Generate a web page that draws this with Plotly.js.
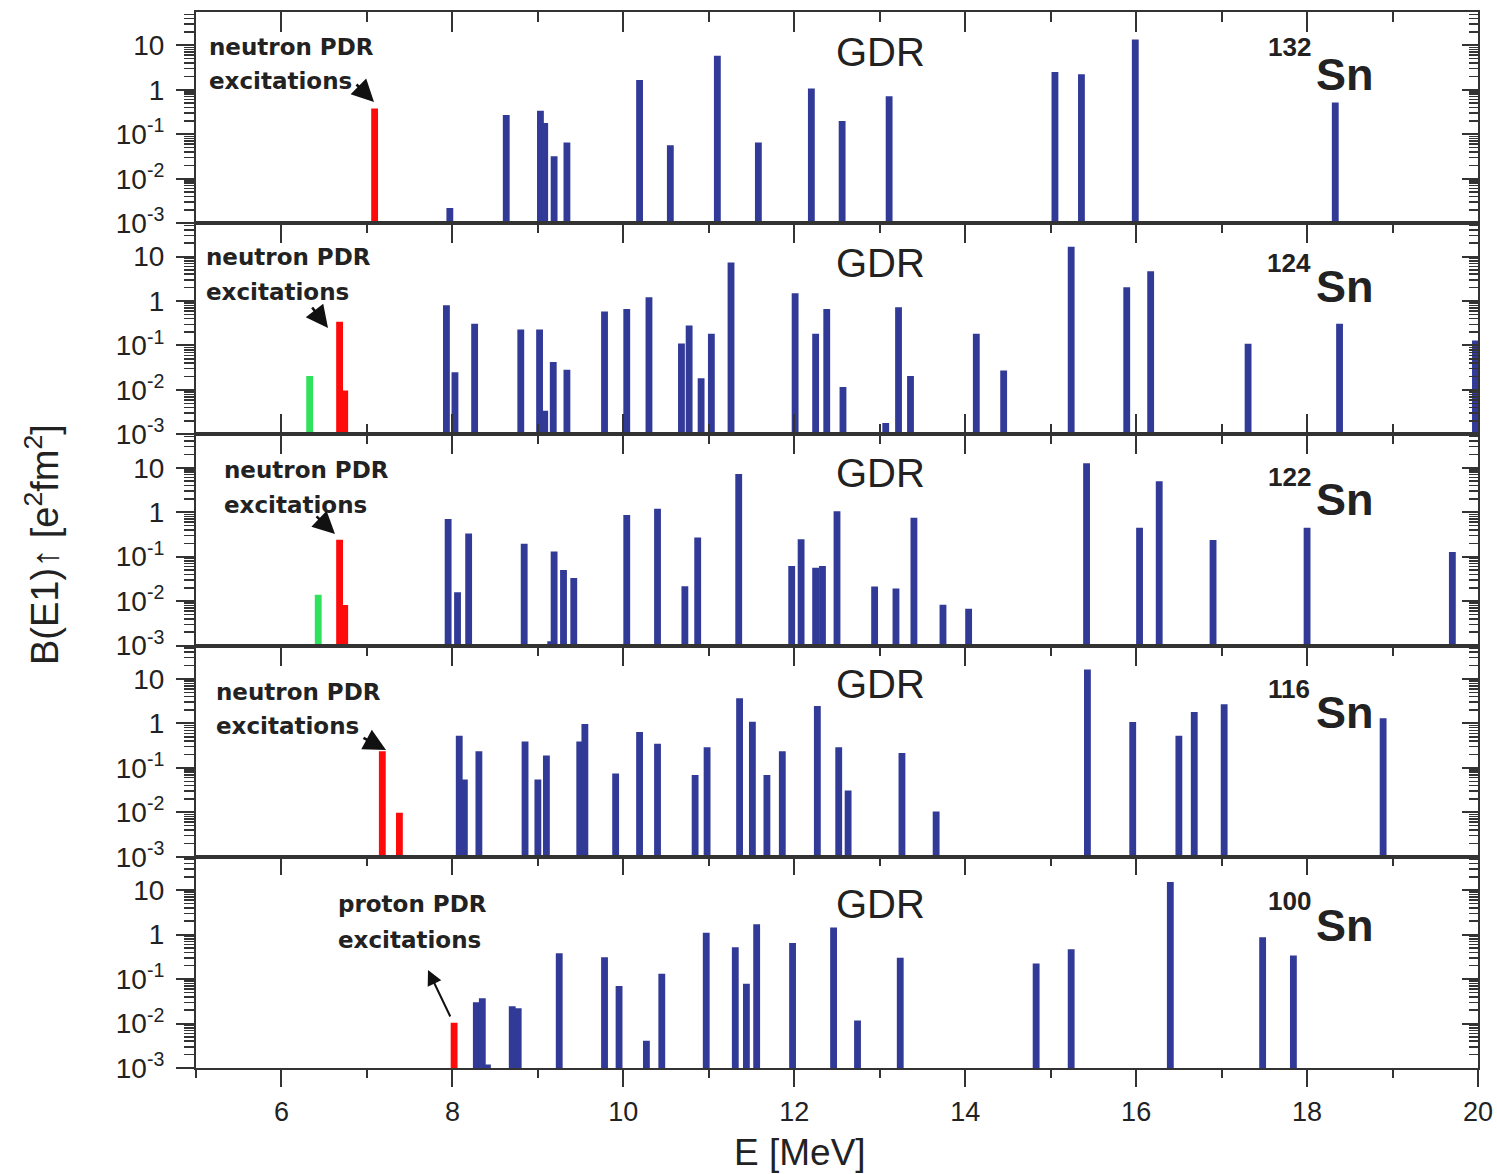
<!DOCTYPE html>
<html>
<head>
<meta charset="utf-8">
<script src="https://cdn.plot.ly/plotly-3.0.1.min.js"></script>
<style>
  html, body { margin: 0; padding: 0; background: #fff; }
  #chart { width: 1497px; height: 1174px; }
</style>
</head>
<body>
<div id="chart"></div>
<script>
// ---- E1 strength distributions, energies in MeV, B(E1)↑ in e^2 fm^2 ----

// 132Sn
const SN132_PDR_E = [7.09];
const SN132_PDR_B = [0.38];
const SN132_GDR_E = [7.97, 8.63, 9.03, 9.08, 9.19, 9.34, 10.19, 10.55, 11.10, 11.58, 12.20, 12.56, 13.11, 15.05, 15.36, 15.99, 18.33];
const SN132_GDR_B = [0.0022, 0.27, 0.34, 0.18, 0.032, 0.065, 1.66, 0.057, 5.8, 0.065, 1.07, 0.2, 0.72, 2.5, 2.25, 13.5, 0.52];

// 124Sn
const SN124_LOW_E = [6.33];
const SN124_LOW_B = [0.0205];
const SN124_PDR_E = [6.68, 6.74];
const SN124_PDR_B = [0.34, 0.0097];
const SN124_GDR_E = [7.93, 8.03, 8.26, 8.80, 9.02, 9.08, 9.18, 9.34, 9.78, 10.04, 10.30, 10.68, 10.77, 10.91, 11.03, 11.26,
                     12.01, 12.25, 12.38, 12.52, 12.57, 13.07, 13.22, 13.36, 14.13, 14.45, 15.24, 15.89, 16.17, 17.31, 18.38, 19.97];
const SN124_GDR_B = [0.80, 0.025, 0.31, 0.23, 0.23, 0.0034, 0.0425, 0.0285, 0.58, 0.66, 1.21, 0.111, 0.28, 0.0184, 0.184, 7.3,
                     1.49, 0.184, 0.66, 0.0011, 0.0117, 0.0018, 0.72, 0.0205, 0.184, 0.0275, 16.6, 2.05, 4.7, 0.109, 0.31, 0.13];

// 122Sn
const SN122_LOW_E = [6.43];
const SN122_LOW_B = [0.014];
const SN122_PDR_E = [6.68, 6.74];
const SN122_PDR_B = [0.24, 0.0082];
const SN122_GDR_E = [7.95, 8.06, 8.19, 8.84, 9.15, 9.19, 9.30, 9.42, 10.04, 10.40, 10.72, 10.87, 11.35, 11.97, 12.08,
                     12.25, 12.33, 12.50, 12.94, 13.19, 13.40, 13.74, 14.04, 15.42, 16.04, 16.27, 16.90, 18.00, 19.70];
const SN122_GDR_B = [0.70, 0.0158, 0.33, 0.195, 0.00126, 0.13, 0.050, 0.033, 0.87, 1.19, 0.0217, 0.27, 7.2, 0.062, 0.245,
                     0.056, 0.062, 1.05, 0.0213, 0.0192, 0.755, 0.0083, 0.0067, 12.6, 0.447, 5.0, 0.238, 0.447, 0.127];

// 116Sn
const SN116_PDR_E = [7.18, 7.38];
const SN116_PDR_B = [0.235, 0.0098];
const SN116_GDR_E = [8.08, 8.14, 8.31, 8.85, 9.00, 9.10, 9.49, 9.55, 9.91, 10.19, 10.40, 10.84, 10.98, 11.36,
                     11.51, 11.68, 11.86, 12.27, 12.52, 12.63, 13.26, 13.66, 15.43, 15.96, 16.50, 16.68, 17.03, 18.89];
const SN116_GDR_B = [0.53, 0.055, 0.235, 0.39, 0.055, 0.19, 0.39, 0.97, 0.075, 0.64, 0.35, 0.069, 0.29, 3.66,
                     1.09, 0.069, 0.235, 2.47, 0.29, 0.031, 0.217, 0.0105, 16.3, 1.07, 0.53, 1.8, 2.7, 1.31];

// 100Sn
const SN100_PDR_E = [8.02];
const SN100_PDR_B = [0.0104];
const SN100_GDR_E = [8.28, 8.35, 8.41, 8.70, 8.77, 9.25, 9.78, 9.95, 10.27, 10.45, 10.97, 11.31,
                     11.44, 11.56, 11.98, 12.46, 12.74, 13.24, 14.83, 15.24, 16.40, 17.48, 17.84];
const SN100_GDR_B = [0.030, 0.037, 0.0012, 0.0245, 0.022, 0.38, 0.31, 0.07, 0.0041, 0.132, 1.1, 0.52,
                     0.078, 1.7, 0.65, 1.45, 0.0117, 0.30, 0.224, 0.47, 15.2, 0.87, 0.34];

// Panel labels
const MASS_NUMBERS = ['132', '124', '122', '116', '100'];
const PDR_LABELS = ['neutron PDR', 'neutron PDR', 'neutron PDR', 'neutron PDR', 'proton PDR'];
const PDR_LABEL_2 = 'excitations';
const GDR_LABEL = 'GDR';

// Axis tick labels
const Y_TICK_VALS = [0.001, 0.01, 0.1, 1, 10];
const Y_TICK_TEXT = ['10<sup>-3</sup>', '10<sup>-2</sup>', '10<sup>-1</sup>', '1', '10'];

// ---------------------------------------------------------------------

const panels = [
  { gdrE: SN132_GDR_E, gdrB: SN132_GDR_B, pdrE: SN132_PDR_E, pdrB: SN132_PDR_B, lowE: [], lowB: [] },
  { gdrE: SN124_GDR_E, gdrB: SN124_GDR_B, pdrE: SN124_PDR_E, pdrB: SN124_PDR_B, lowE: SN124_LOW_E, lowB: SN124_LOW_B },
  { gdrE: SN122_GDR_E, gdrB: SN122_GDR_B, pdrE: SN122_PDR_E, pdrB: SN122_PDR_B, lowE: SN122_LOW_E, lowB: SN122_LOW_B },
  { gdrE: SN116_GDR_E, gdrB: SN116_GDR_B, pdrE: SN116_PDR_E, pdrB: SN116_PDR_B, lowE: [], lowB: [] },
  { gdrE: SN100_GDR_E, gdrB: SN100_GDR_B, pdrE: SN100_PDR_E, pdrB: SN100_PDR_B, lowE: [], lowB: [] }
];

const W = 1497, H = 1174, ML = 196, MR = 19, MT = 12, MB = 106;
const PW = W - ML - MR, PH = H - MT - MB;
const px = x => (x - ML) / PW;           // page pixel -> paper x
const py = y => (H - MB - y) / PH;       // page pixel -> paper y

const FONT = 'Liberation Sans, Arial, sans-serif';
const WIDE_BOLD = 'DejaVu Sans, Verdana, sans-serif';
const INK = '#222222';
const AXIS = '#333333';
const BLUE = '#323a98';
const RED = '#ff0a0a';
const GREEN = '#2fe25c';
const BAR_W = 0.08;
const Y_RANGE = [-3, 1.75];

// minor ticks 2..9 within each decade
const yMinor = [];
for (let d = -3; d <= 1; d++) for (let k = 2; k <= 9; k++) {
  const v = k * Math.pow(10, d);
  if (Math.log10(v) < Y_RANGE[1]) yMinor.push(v);
}

const traces = [];
const layout = {
  width: W, height: H,
  margin: { l: ML, r: MR, t: MT, b: MB },
  paper_bgcolor: '#fff', plot_bgcolor: '#fff',
  showlegend: false,
  barmode: 'overlay',
  font: { family: FONT, color: INK },
  annotations: []
};

function barTrace(E, B, color, sfx) {
  return {
    type: 'bar', x: E, y: B, width: E.map(() => BAR_W),
    marker: { color: color, line: { width: 0 } },
    xaxis: 'x' + sfx, yaxis: 'y' + sfx, hoverinfo: 'x+y'
  };
}

const xCommon = {
  range: [5, 20], type: 'linear', showgrid: false, zeroline: false,
  showline: true, linecolor: AXIS, linewidth: 2,
  tickmode: 'linear', tick0: 0, dtick: 2, tickwidth: 2, tickcolor: AXIS
};

panels.forEach((p, i) => {
  const sfx = i === 0 ? '' : String(i + 1);
  const dom = [1 - (i + 1) * 0.2, 1 - i * 0.2];

  traces.push(barTrace(p.gdrE, p.gdrB, BLUE, sfx));
  if (p.lowE.length) traces.push(barTrace(p.lowE, p.lowB, GREEN, sfx));
  traces.push(barTrace(p.pdrE, p.pdrB, RED, sfx));

  const last = i === 4;
  const xa = Object.assign({}, xCommon, { anchor: 'y' + sfx });
  if (last) {
    Object.assign(xa, {
      side: 'bottom', ticks: 'outside', ticklen: 17, mirror: true,
      showticklabels: true, tickfont: { size: 27, family: FONT, color: INK },
      ticklabelstandoff: 2,
      minor: { dtick: 1, tick0: 0, ticks: 'outside', ticklen: 8, tickwidth: 2, tickcolor: AXIS }
    });
  } else {
    Object.assign(xa, {
      side: 'top', ticks: 'inside', ticklen: 20, mirror: i === 1 ? 'ticks' : true,
      showticklabels: false,
      minor: { dtick: 1, tick0: 0, ticks: 'inside', ticklen: 10, tickwidth: 2, tickcolor: AXIS }
    });
  }
  layout['xaxis' + sfx] = xa;

  layout['yaxis' + sfx] = {
    domain: dom, anchor: 'x' + sfx, type: 'log', range: Y_RANGE,
    showgrid: false, zeroline: false, showline: true, linecolor: AXIS, linewidth: 2, mirror: true,
    tickmode: 'array', tickvals: Y_TICK_VALS, ticktext: Y_TICK_TEXT,
    ticks: 'outside', ticklen: 18, tickwidth: 2, tickcolor: AXIS,
    tickfont: { size: 28, family: FONT, color: INK }, ticklabelstandoff: 6,
    minor: { tickmode: 'array', tickvals: yMinor, ticks: 'outside', ticklen: 10, tickwidth: 1.5, tickcolor: AXIS }
  };

  // inward ticks along the right-hand frame
  layout['yaxis' + (i + 6)] = {
    overlaying: 'y' + sfx, anchor: 'x' + sfx, side: 'right', type: 'log', range: Y_RANGE,
    showgrid: false, zeroline: false, showline: false, showticklabels: false,
    tickmode: 'array', tickvals: Y_TICK_VALS, ticks: 'inside', ticklen: 16, tickwidth: 2, tickcolor: AXIS,
    minor: { tickmode: 'array', tickvals: yMinor, ticks: 'inside', ticklen: 9, tickwidth: 1.5, tickcolor: AXIS }
  };
  traces.push({ type: 'scatter', x: [], y: [], xaxis: 'x' + sfx, yaxis: 'y' + (i + 6), hoverinfo: 'skip' });
});

// inward ticks along the top frame of the lowest panel
layout.xaxis6 = Object.assign({}, xCommon, {
  overlaying: 'x5', anchor: 'y5', side: 'top', showline: false,
  ticks: 'inside', ticklen: 18, showticklabels: false,
  minor: { dtick: 1, tick0: 0, ticks: 'inside', ticklen: 9, tickwidth: 2, tickcolor: AXIS }
});
traces.push({ type: 'scatter', x: [], y: [], xaxis: 'x6', yaxis: 'y5', hoverinfo: 'skip' });

// ---- text annotations (page-pixel positions) ----
const gdrY   = [52, 263, 473, 684, 904];
const massY  = [47, 263, 477, 689, 901];
const snY    = [74, 286, 499, 712, 925];
const lab1X  = [207, 204, 222, 214, 336];
const lab1Y  = [47, 257, 470, 692, 904];
const lab2Y  = [81, 292, 505, 726, 940];
const arrows = [
  { hx: 374, hy: 102, tx: 355, ty: 83 },
  { hx: 328, hy: 328, tx: 311, ty: 306 },
  { hx: 335, hy: 534, tx: 315, ty: 515 },
  { hx: 386, hy: 750, tx: 362, ty: 737 },
  { hx: 428, hy: 970, tx: 451, ty: 1018 }
];

function note(text, x, y, size, opts) {
  return Object.assign({
    text: text, xref: 'paper', yref: 'paper', x: px(x), y: py(y),
    xanchor: 'center', yanchor: 'middle', showarrow: false,
    font: { family: FONT, size: size, color: INK }
  }, opts || {});
}

for (let i = 0; i < 5; i++) {
  layout.annotations.push(note(GDR_LABEL, 880, gdrY[i], 40));
  layout.annotations.push(note('<b>' + MASS_NUMBERS[i] + '</b>', 1289, massY[i], 26));
  layout.annotations.push(note('<b>Sn</b>', 1345, snY[i], 45));
  layout.annotations.push(note('<b>' + PDR_LABELS[i] + '</b>', lab1X[i], lab1Y[i], 23,
    { xanchor: 'left', font: { family: WIDE_BOLD, size: 23, color: INK } }));
  layout.annotations.push(note('<b>' + PDR_LABEL_2 + '</b>', lab1X[i], lab2Y[i], 23,
    { xanchor: 'left', font: { family: WIDE_BOLD, size: 23, color: INK } }));
  const a = arrows[i];
  const longArrow = i === 4;
  layout.annotations.push({
    text: '', xref: 'paper', yref: 'paper', x: px(a.hx), y: py(a.hy),
    showarrow: true, axref: 'pixel', ayref: 'pixel', ax: a.tx - a.hx, ay: a.ty - a.hy,
    arrowhead: 2, arrowsize: longArrow ? 1.5 : 1.7, arrowwidth: longArrow ? 2 : 2.6,
    arrowcolor: '#111', standoff: 0, startstandoff: 0
  });
}

// axis titles
layout.annotations.push(note('E [MeV]', 800, 1152, 37));
layout.annotations.push(note('B(E1)↑ [e<sup>2</sup>fm<sup>2</sup>]', 42, 545, 38, { textangle: -90 }));

Plotly.newPlot('chart', traces, layout, { displayModeBar: false, staticPlot: true });
</script>
</body>
</html>
